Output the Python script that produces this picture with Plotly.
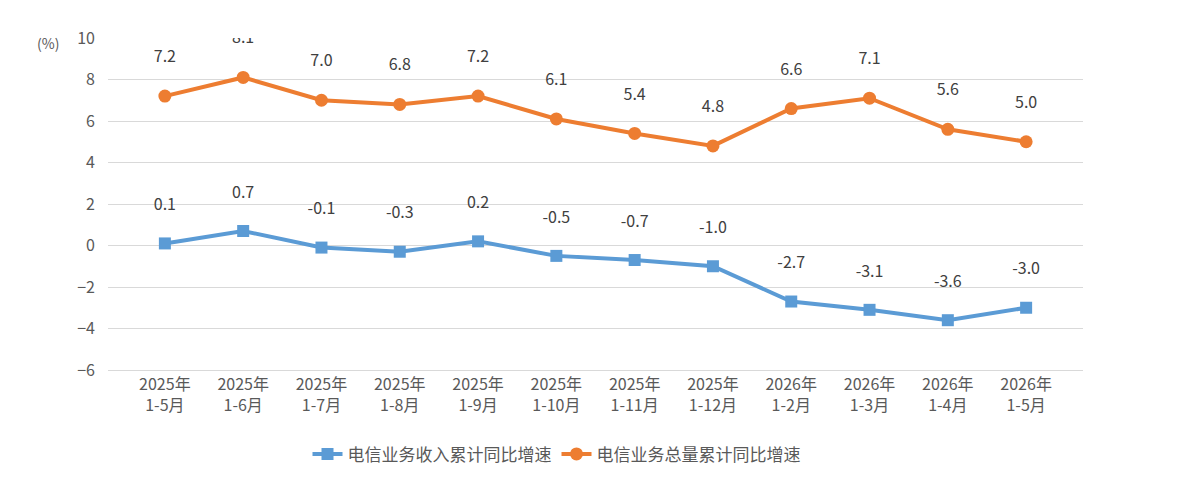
import plotly.graph_objects as go

categories = ["2025年<br>1-5月", "2025年<br>1-6月", "2025年<br>1-7月", "2025年<br>1-8月",
              "2025年<br>1-9月", "2025年<br>1-10月", "2025年<br>1-11月", "2025年<br>1-12月",
              "2026年<br>1-2月", "2026年<br>1-3月", "2026年<br>1-4月", "2026年<br>1-5月"]
revenue = [0.1, 0.7, -0.1, -0.3, 0.2, -0.5, -0.7, -1.0, -2.7, -3.1, -3.6, -3.0]
volume = [7.2, 8.1, 7.0, 6.8, 7.2, 6.1, 5.4, 4.8, 6.6, 7.1, 5.6, 5.0]

font = "Noto Sans CJK SC"
grey = "#595959"

fig = go.Figure()
fig.add_trace(go.Scatter(
    x=categories, y=revenue, name="电信业务收入累计同比增速",
    mode="lines+markers+text", text=[f"{v:.1f}<br> " for v in revenue],
    textposition="top center",
    line=dict(color="#5B9BD5", width=4),
    marker=dict(symbol="square", size=12, color="#5B9BD5"),
    textfont=dict(size=16, color="#404040", family=font),
))
fig.add_trace(go.Scatter(
    x=categories, y=volume, name="电信业务总量累计同比增速",
    mode="lines+markers+text", text=[f"{v:.1f}<br> " for v in volume],
    textposition="top center",
    line=dict(color="#ED7D31", width=4),
    marker=dict(symbol="circle", size=13, color="#ED7D31"),
    textfont=dict(size=16, color="#404040", family=font),
))

fig.update_layout(
    width=1182, height=482,
    margin=dict(l=100, r=107, t=30, b=120, autoexpand=False),
    plot_bgcolor="white", paper_bgcolor="white",
    font=dict(family=font, color=grey, size=15),
    legend=dict(orientation="h", x=0.46, xanchor="center", y=-0.2, yanchor="top",
                font=dict(size=17, color=grey)),
    annotations=[dict(text="(%)", x=-0.075, y=1.02, xref="paper", yref="paper",
                      showarrow=False, font=dict(size=14, color=grey))],
)
fig.update_xaxes(showgrid=False, showline=True, linecolor="#d9d9d9",
                 tickfont=dict(size=16), automargin=False)
fig.update_yaxes(range=[-6, 10], dtick=2, gridcolor="#d9d9d9", zeroline=False,
                 tickfont=dict(size=16), ticklabelstandoff=12, automargin=False)

fig.write_html("out.html")
